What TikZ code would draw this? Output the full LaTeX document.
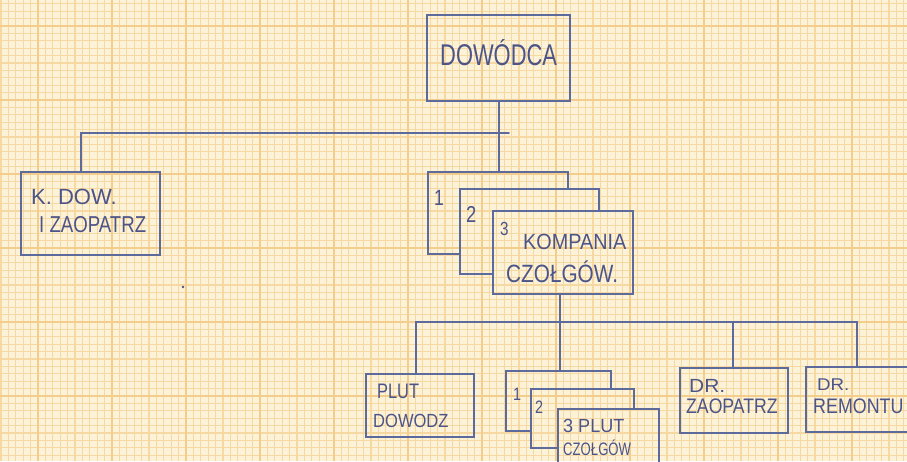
\documentclass[tikz,border=0pt]{standalone}
\usepackage{graphicx}
\usepackage{fontspec}
\newfontfamily\hand{Liberation Sans}
\definecolor{paper}{HTML}{FCF2D8}
\definecolor{gridfine}{HTML}{F6D9A2}
\definecolor{gridmaj}{HTML}{F2CD8C}
\definecolor{pen}{HTML}{5C6A9C}
\definecolor{ink}{HTML}{4C5488}
\newcommand{\hw}[3]{\fontsize{#1}{#1}\selectfont\scalebox{#2}[1]{#3}}
\tikzset{
  box/.style={shape=rectangle, draw=pen, line width=1.5pt, inner sep=0pt, outer sep=0pt, anchor=north west},
  ghost/.style={shape=rectangle, inner sep=0pt, outer sep=0pt, anchor=north west},
  wire/.style={draw=pen, line width=1.5pt, line cap=round},
  lbl/.style={inner sep=0pt, anchor=base west, text=ink, font=\hand}
}
\begin{document}
\begin{tikzpicture}[x=1pt,y=-1pt]
\useasboundingbox (0,0) rectangle (907,461);
\clip (0,0) rectangle (907,461);
\fill[paper] (0,0) rectangle (907,461);
\foreach \i in {0,...,123} \draw[gridfine, line width=1.1pt] ({1+7.4*\i},0) -- ({1+7.4*\i},461);
\foreach \j in {0,...,63} \draw[gridfine, line width=1.1pt] (0,{3.8+7.4*\j}) -- (907,{3.8+7.4*\j});
\foreach \i in {0,...,12} \draw[gridmaj, line width=1.3pt] ({38+74*\i},0) -- ({38+74*\i},461);
\foreach \j in {0,...,6} \draw[gridmaj, line width=1.3pt] (0,{26+74*\j}) -- (907,{26+74*\j});

% top level
\node[box, minimum width=143pt, minimum height=86pt] (dow) at (427,15) {};
\node[box, minimum width=139pt, minimum height=83pt] (kdow) at (21,172) {};

% company stack
\node[ghost, minimum width=140pt, minimum height=82pt] (k1) at (428,172) {};
\node[ghost, minimum width=139pt, minimum height=85pt] (k2) at (460,189) {};
\node[box, minimum width=140pt, minimum height=83pt] (k3) at (493,211) {};
\draw[wire, line cap=butt] (k1.south west -| k2.west) -- (k1.south west) -- (k1.north west) -- (k1.north east) -- (k1.east |- k2.north);
\draw[wire, line cap=butt] (k2.south west -| k3.west) -- (k2.south west) -- (k2.north west) -- (k2.north east) -- (k2.east |- k3.north);

% platoon level
\node[box, minimum width=108pt, minimum height=63pt] (pd) at (366,374) {};
\node[ghost, minimum width=105pt, minimum height=60pt] (p1) at (506,371) {};
\node[ghost, minimum width=103pt, minimum height=59pt] (p2) at (531,389) {};
\node[box, minimum width=101pt, minimum height=66pt] (p3) at (558,409) {};
\draw[wire, line cap=butt] (p1.south west -| p2.west) -- (p1.south west) -- (p1.north west) -- (p1.north east) -- (p1.east |- p2.north);
\draw[wire, line cap=butt] (p2.south west -| p3.west) -- (p2.south west) -- (p2.north west) -- (p2.north east) -- (p2.east |- p3.north);
\node[box, minimum width=108pt, minimum height=65pt] (dz) at (680,368) {};
\node[box, minimum width=124pt, minimum height=65pt] (dr) at (806,367) {};

% connector points
\coordinate (kdTop) at (81,172);
\coordinate (busTR) at (509,133);
\coordinate (dowDrop) at (499,101);
\coordinate (k1Top) at (499,172);
\coordinate (k3Drop) at (560,294);
\coordinate (busL) at (416,322);
\coordinate (busR) at (857,322);
\coordinate (pdTop) at (416,374);
\coordinate (p1Top) at (560,371);
\coordinate (dzTop) at (733,368);
\coordinate (drTop) at (857,367);

\draw[wire] (dowDrop) -- (k1Top);
\draw[wire] (kdTop) |- (busTR);
\draw[wire] (k3Drop) -- (p1Top);
\draw[wire] (pdTop) -- (busL) -- (busR) -- (drTop);
\draw[wire] (dzTop) -- (dzTop |- busL);

% labels
\node[lbl] (tdow) at (440,65) {\hw{30}{0.73}{DOWÓDCA}};
\node[lbl] (tk1) at (31,204) {\hw{22}{1.0}{K. DOW.}};
\node[lbl] (tk2) at (39,232) {\hw{23}{0.81}{I ZAOPATRZ}};
\node[lbl] (n1) at (434,205) {\hw{22}{0.8}{1}};
\node[lbl] (n2) at (466,222) {\hw{23}{0.8}{2}};
\node[lbl] (n3) at (500,235) {\hw{19}{0.8}{3}};
\node[lbl] (tkomp) at (523,249) {\hw{22}{0.9}{KOMPANIA}};
\node[lbl] (tczo) at (506,282) {\hw{25}{0.83}{CZOŁGÓW.}};
\node[lbl] (tplut) at (377,398) {\hw{21}{0.78}{PLUT}};
\node[lbl] (tdowodz) at (373,427) {\hw{19}{0.87}{DOWODZ}};
\node[lbl] (m1) at (513,400) {\hw{18}{0.8}{1}};
\node[lbl] (m2) at (535,413) {\hw{18}{0.8}{2}};
\node[lbl] (t3plut) at (563,432) {\hw{19}{0.95}{3 PLUT}};
\node[lbl] (tczo2) at (563,455) {\hw{18}{0.73}{CZOŁGÓW}};
\node[lbl] (tdr1) at (689,392) {\hw{19}{1.1}{DR.}};
\node[lbl] (tzaop) at (686,413) {\hw{21}{0.84}{ZAOPATRZ}};
\node[lbl] (tdr2) at (817,390) {\hw{17}{1.1}{DR.}};
\node[lbl] (trem) at (813,413) {\hw{21}{0.85}{REMONTU}};

\fill[ink] (183,287) circle (1.4);
\end{tikzpicture}
\end{document}
